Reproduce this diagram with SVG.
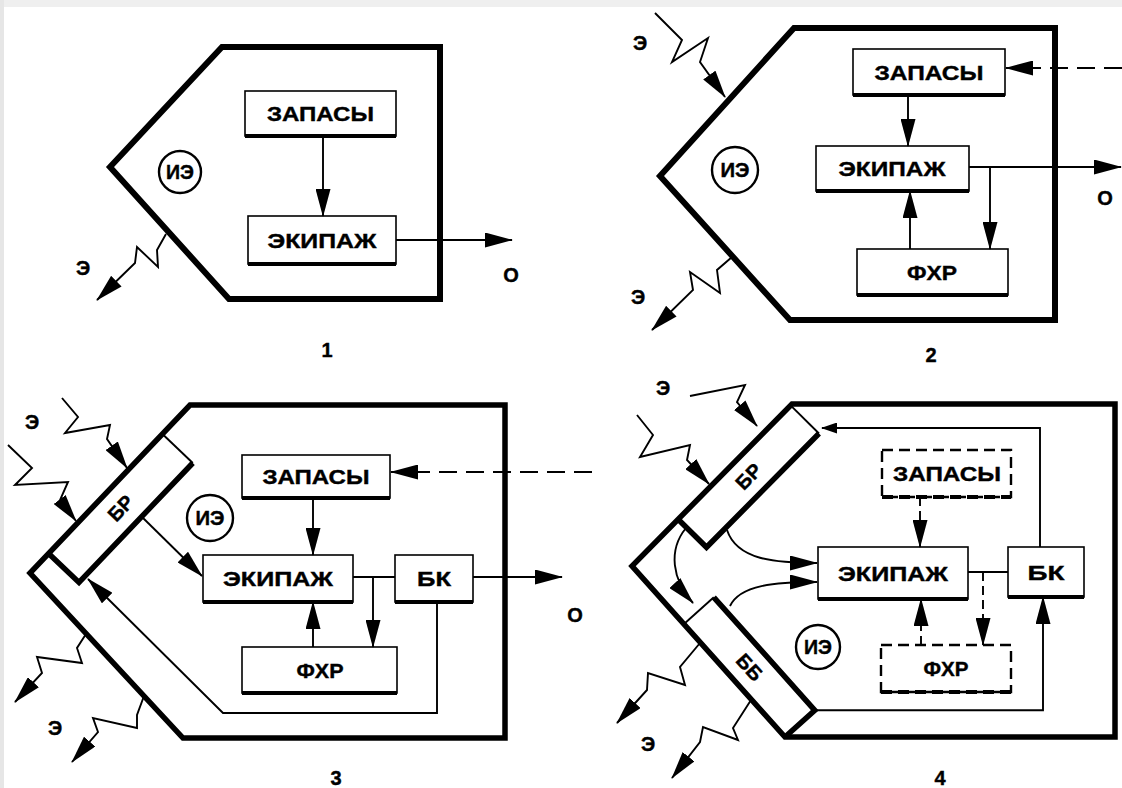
<svg xmlns="http://www.w3.org/2000/svg" width="1122" height="788" viewBox="0 0 1122 788">
<style>
.pent{fill:none;stroke:#000;stroke-width:6;stroke-linejoin:miter}
.box{fill:#fff;stroke:#000;stroke-width:1.6}
.dbox{fill:#fff;stroke:#000;stroke-width:2.4;stroke-dasharray:11 6}
.sh{stroke:#000;stroke-width:4}
.dsh{stroke:#000;stroke-width:4;stroke-dasharray:11 6}
.ln{fill:none;stroke:#000;stroke-width:1.9}
.thk{fill:none;stroke:#000;stroke-width:5.5;stroke-linejoin:miter}
.dash{stroke-dasharray:18 9}
.t{font-family:"Liberation Sans",Arial,sans-serif;font-weight:bold;font-size:21px;text-anchor:middle;fill:#000;stroke:#000;stroke-width:0.4}
.s{font-size:20px}
.c{fill:#fff;stroke:#000;stroke-width:2.4}
</style>
<defs>
<marker id="a" viewBox="0 0 28 15" refX="27" refY="7.5" markerWidth="28" markerHeight="15" markerUnits="userSpaceOnUse" orient="auto"><path d="M0,0L28,7.5L0,15z" fill="#000"/></marker>
<marker id="b" viewBox="0 0 16 11" refX="15" refY="5.5" markerWidth="16" markerHeight="11" markerUnits="userSpaceOnUse" orient="auto"><path d="M0,0L16,5.5L0,11z" fill="#000"/></marker>
</defs>
<rect width="1122" height="788" fill="#fff"/>
<rect width="1122" height="7" fill="#efefef"/>
<rect width="4" height="788" fill="#e6e6e6"/>

<!-- Panel 1 -->
<g id="p1-env"><polygon class="pent" points="222,47 440,47 440,299 229,299 110,167"/></g>
<g id="p1-ie"><circle class="c" cx="180" cy="172" r="21"/><text class="t s" x="180" y="179" textLength="28" lengthAdjust="spacingAndGlyphs">ИЭ</text></g>
<g id="p1-zapasy"><rect class="box" x="245" y="91" width="151" height="45"/><line class="sh" x1="245" y1="136" x2="396" y2="136"/><text class="t" x="320.5" y="121" textLength="107" lengthAdjust="spacingAndGlyphs">ЗАПАСЫ</text></g>
<g id="p1-ekipazh"><rect class="box" x="248" y="216" width="148" height="48"/><line class="sh" x1="248" y1="264" x2="396" y2="264"/><text class="t" x="322" y="247.5" textLength="109" lengthAdjust="spacingAndGlyphs">ЭКИПАЖ</text></g>
<g id="p1-labels"><text class="t s" x="83" y="275">Э</text><text class="t s" x="511" y="282">О</text><text class="t s" x="327" y="357">1</text></g>
<g id="p1-conn">
<path class="ln" d="M323,136V216" marker-end="url(#a)"/>
<path class="ln" d="M396,240H512" marker-end="url(#a)"/>
<polyline class="ln" points="166,234 157,250 158,267 137,247 135,263 97,300" marker-end="url(#a)"/>
</g>

<!-- Panel 2 -->
<g id="p2-env"><polygon class="pent" points="794,28 1055,28 1055,320 790,320 660,176"/></g>
<g id="p2-ie"><circle class="c" cx="735" cy="170" r="23"/><text class="t s" x="735" y="177" textLength="29" lengthAdjust="spacingAndGlyphs">ИЭ</text></g>
<g id="p2-zapasy"><rect class="box" x="853" y="49" width="152" height="46"/><line class="sh" x1="853" y1="95" x2="1005" y2="95"/><text class="t" x="929" y="79.5" textLength="109" lengthAdjust="spacingAndGlyphs">ЗАПАСЫ</text></g>
<g id="p2-ekipazh"><rect class="box" x="816" y="146" width="153" height="45"/><line class="sh" x1="816" y1="191" x2="969" y2="191"/><text class="t" x="892" y="176" textLength="107" lengthAdjust="spacingAndGlyphs">ЭКИПАЖ</text></g>
<g id="p2-fhr"><rect class="box" x="857" y="249" width="151" height="46"/><line class="sh" x1="857" y1="295" x2="1008" y2="295"/><text class="t" x="932" y="279.5" textLength="50" lengthAdjust="spacingAndGlyphs">ФХР</text></g>
<g id="p2-labels"><text class="t s" x="640" y="50">Э</text><text class="t s" x="638" y="304">Э</text><text class="t s" x="1105" y="205">О</text><text class="t s" x="931" y="362">2</text></g>
<g id="p2-conn">
<path class="ln dash" d="M1122,68H1006" marker-end="url(#a)"/>
<path class="ln" d="M908,95V146" marker-end="url(#a)"/>
<path class="ln" d="M969,167H1121" marker-end="url(#a)"/>
<path class="ln" d="M990,167V249" marker-end="url(#a)"/>
<path class="ln" d="M910,249V191" marker-end="url(#a)"/>
<polyline class="ln" points="655,13 682,40 672,62 708,38 700,62 725,97" marker-end="url(#a)"/>
<polyline class="ln" points="732,257 717,270 720,293 690,272 693,290 652,330" marker-end="url(#a)"/>
</g>

<!-- Panel 3 -->
<g id="p3-env"><polygon class="pent" style="stroke-width:5.5" points="190,405 505,405 505,738 183,738 30,573"/></g>
<g id="p3-br"><line class="ln" x1="162.4" y1="434" x2="192.8" y2="463"/><polyline class="thk" points="192.8,463 79,582.4 48.6,553.4"/><text class="t s" transform="translate(120.7,508.2) rotate(-46.4)" x="0" y="7">БР</text></g>
<g id="p3-ie"><circle class="c" cx="210" cy="518" r="23"/><text class="t s" x="210" y="525" textLength="29" lengthAdjust="spacingAndGlyphs">ИЭ</text></g>
<g id="p3-zapasy"><rect class="box" x="242" y="455" width="148" height="43"/><line class="sh" x1="242" y1="498" x2="390" y2="498"/><text class="t" x="316" y="484" textLength="107" lengthAdjust="spacingAndGlyphs">ЗАПАСЫ</text></g>
<g id="p3-ekipazh"><rect class="box" x="203" y="555" width="150" height="47"/><line class="sh" x1="203" y1="602" x2="353" y2="602"/><text class="t" x="278" y="586" textLength="110" lengthAdjust="spacingAndGlyphs">ЭКИПАЖ</text></g>
<g id="p3-bk"><rect class="box" x="395" y="555" width="78" height="47"/><line class="sh" x1="395" y1="602" x2="473" y2="602"/><text class="t" x="434" y="586" textLength="34" lengthAdjust="spacingAndGlyphs">БК</text></g>
<g id="p3-fhr"><rect class="box" x="242" y="647" width="155" height="46"/><line class="sh" x1="242" y1="693" x2="397" y2="693"/><text class="t" x="320" y="677.5" textLength="47" lengthAdjust="spacingAndGlyphs">ФХР</text></g>
<g id="p3-labels"><text class="t s" x="32" y="429">Э</text><text class="t s" x="55" y="735">Э</text><text class="t s" x="575" y="622">О</text><text class="t s" x="336" y="785">3</text></g>
<g id="p3-conn">
<path class="ln dash" d="M592,472H391" marker-end="url(#a)"/>
<path class="ln" d="M313,498V555" marker-end="url(#a)"/>
<path class="ln" d="M353,577H395"/>
<path class="ln" d="M373,577V647" marker-end="url(#a)"/>
<path class="ln" d="M313,647V602" marker-end="url(#a)"/>
<path class="ln" d="M473,577H562" marker-end="url(#a)"/>
<path class="ln" d="M437,602V713H223L88,579" marker-end="url(#a)"/>
<path class="ln" d="M141,516L202,576" marker-end="url(#a)"/>
<polyline class="ln" points="62,398 78,417 65,433 110,425 107,439 127,468" marker-end="url(#a)"/>
<polyline class="ln" points="8,445 32,468 15,485 68,482 60,500 76,521" marker-end="url(#a)"/>
<polyline class="ln" points="86,634 77,648 82,663 37,657 42,673 15,702" marker-end="url(#a)"/>
<polyline class="ln" points="144,696 137,715 137,728 93,718 98,732 72,762" marker-end="url(#a)"/>
</g>

<!-- Panel 4 -->
<g id="p4-env"><polygon class="pent" style="stroke-width:5.5" points="792,404 1115,404 1115,737 785,737 632,566"/></g>
<g id="p4-br"><line class="ln" x1="790.6" y1="405.4" x2="819" y2="433.5"/><polyline class="thk" points="819,433.5 706.5,547.3 678.1,519.2"/><text class="t s" transform="translate(748.6,476.4) rotate(-45.3)" x="0" y="7">БР</text></g>
<g id="p4-bb"><line class="ln" x1="684" y1="624" x2="713.8" y2="597.3"/><polyline class="thk" points="713.8,597.3 814.8,710.3 785,737"/><text class="t s" transform="translate(749.6,667.4) rotate(48.2)" x="0" y="7">ББ</text></g>
<g id="p4-ie"><circle class="c" cx="818" cy="647" r="22"/><text class="t s" x="818" y="654" textLength="28" lengthAdjust="spacingAndGlyphs">ИЭ</text></g>
<g id="p4-zapasy"><rect class="dbox" x="882" y="450" width="129" height="47"/><line class="dsh" x1="882" y1="497" x2="1011" y2="497"/><text class="t" x="947" y="481" textLength="108" lengthAdjust="spacingAndGlyphs">ЗАПАСЫ</text></g>
<g id="p4-ekipazh"><rect class="box" x="818" y="547" width="150" height="52"/><line class="sh" x1="818" y1="599" x2="968" y2="599"/><text class="t" x="893" y="580.5" textLength="110" lengthAdjust="spacingAndGlyphs">ЭКИПАЖ</text></g>
<g id="p4-bk"><rect class="box" x="1008" y="547" width="76" height="50"/><line class="sh" x1="1008" y1="597" x2="1084" y2="597"/><text class="t" x="1046" y="579.5" textLength="37" lengthAdjust="spacingAndGlyphs">БК</text></g>
<g id="p4-fhr"><rect class="dbox" x="881" y="645" width="130" height="47"/><line class="dsh" x1="881" y1="692" x2="1011" y2="692"/><text class="t" x="946" y="676" textLength="45" lengthAdjust="spacingAndGlyphs">ФХР</text></g>
<g id="p4-labels"><text class="t s" x="663" y="395">Э</text><text class="t s" x="648" y="751">Э</text><text class="t s" x="940" y="785">4</text></g>
<g id="p4-conn">
<path class="ln dash" d="M920,497V547" marker-end="url(#a)" style="stroke-dasharray:9 5"/>
<path class="ln" d="M968,572H1008"/>
<path class="ln" d="M983,572V645" marker-end="url(#a)" style="stroke-dasharray:9 5"/>
<path class="ln" d="M921,645V599" marker-end="url(#a)" style="stroke-dasharray:9 5"/>
<path class="ln" d="M1040,547V428H822" marker-end="url(#b)"/>
<path class="ln" d="M814.8,710.3H1043V597" marker-end="url(#a)"/>
<path class="ln" d="M727,530C737,560 775,563 817,563" marker-end="url(#a)"/>
<path class="ln" d="M730,606C740,585 775,582 817,582" marker-end="url(#a)"/>
<path class="ln" d="M686,528C668,550 672,580 693,603" marker-end="url(#a)"/>
<polyline class="ln" points="690,396 745,385 737,402 757,426" marker-end="url(#a)"/>
<polyline class="ln" points="637,415 653,435 640,457 690,445 687,460 709,484" marker-end="url(#a)"/>
<polyline class="ln" points="700,643 680,667 685,685 648,673 647,690 617,723" marker-end="url(#a)"/>
<polyline class="ln" points="751,700 733,728 738,740 703,727 700,742 672,778" marker-end="url(#a)"/>
</g>
</svg>
